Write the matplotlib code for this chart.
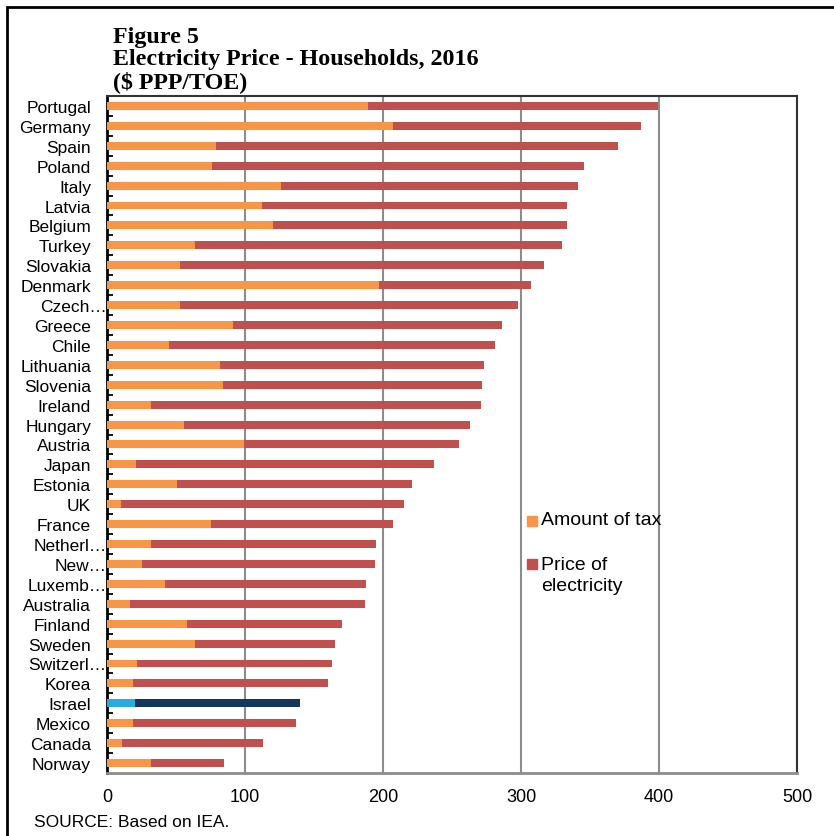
import numpy as np
import matplotlib
matplotlib.use("Agg")
import matplotlib.pyplot as plt
from matplotlib.patches import Rectangle

countries = ["Portugal", "Germany", "Spain", "Poland", "Italy", "Latvia", "Belgium",
             "Turkey", "Slovakia", "Denmark", "Czech\u2026", "Greece", "Chile",
             "Lithuania", "Slovenia", "Ireland", "Hungary", "Austria", "Japan",
             "Estonia", "UK", "France", "Netherl\u2026", "New\u2026", "Luxemb\u2026",
             "Australia", "Finland", "Sweden", "Switzerl\u2026", "Korea", "Israel",
             "Mexico", "Canada", "Norway"]
# total price of electricity
price = [399, 387, 370, 346, 341, 333, 333, 330, 317, 307, 298, 286, 281,
         273, 272, 271, 263, 255, 237, 221, 215, 207, 195, 194, 188,
         187, 170, 165, 163, 160, 140, 137, 113, 85]
# amount of tax
tax = [189, 207, 79, 76, 126, 112, 120, 64, 53, 197, 53, 91, 45,
       82, 84, 32, 56, 99, 21, 51, 10, 75, 32, 25, 42,
       17, 58, 64, 22, 19, 20, 19, 11, 32]

c_tax = "#F79646"
c_price = "#C0504D"
c_tax_il = "#29ABE2"
c_price_il = "#14365E"

plt.rcParams["font.family"] = ["Liberation Sans", "DejaVu Sans"]

fig = plt.figure(figsize=(8.34, 8.37), dpi=100)
ax = fig.add_axes([107/834, 1-774/837, 690/834, 677/837])

y = np.arange(len(countries))
pc = [c_price_il if c == "Israel" else c_price for c in countries]
tc = [c_tax_il if c == "Israel" else c_tax for c in countries]
ax.barh(y, price, height=0.4, color=pc, zorder=3)
ax.barh(y, tax, height=0.4, color=tc, zorder=4)

ax.set_xlim(0, 500)
ax.set_ylim(len(countries) - 0.5, -0.5)
ax.set_xticks([0, 100, 200, 300, 400, 500])
ax.tick_params(axis="x", length=0, pad=11, labelsize=13)
ax.grid(axis="x", color="#8c8c8c", lw=1.5, zorder=1)

ax.set_yticks(y)
ax.set_yticklabels(countries, fontsize=12.5)
ax.set_yticks(np.arange(len(countries) - 1) + 0.5, minor=True)
ax.tick_params(axis="y", which="major", length=0, pad=11.5)
ax.tick_params(axis="y", which="minor", direction="in", length=4.5, width=1.3, color="black")
for t, c in zip(ax.yaxis.get_major_ticks(), countries):
    if c.endswith("\u2026"):
        t.set_pad(0.3)

ax.spines["left"].set_color("black")
ax.spines["left"].set_linewidth(2)
ax.spines["bottom"].set_color("#8c8c8c")
ax.spines["bottom"].set_linewidth(2)
ax.spines["top"].set_color("#333333")
ax.spines["top"].set_linewidth(1.5)
ax.spines["right"].set_color("#333333")
ax.spines["right"].set_linewidth(1.5)

# legend drawn by hand so the square sits next to the first line
tf = ax.transAxes
def ax_xy(px, py):
    return ((px - 107) / 690, (774 - py) / 677)
x0, y0 = ax_xy(527, 527)
ax.add_patch(Rectangle((x0, y0), 10/690, 10/677, transform=tf, color=c_tax, clip_on=False, zorder=5))
x0, y0 = ax_xy(527, 570)
ax.add_patch(Rectangle((x0, y0), 10/690, 10/677, transform=tf, color=c_price, clip_on=False, zorder=5))
tx, ty = ax_xy(541, 521)
ax.text(tx, ty, "Amount of tax", transform=tf, fontsize=14, va="center", ha="left", zorder=5)
tx, ty = ax_xy(541, 557)
ax.text(tx, ty, "Price of\nelectricity", transform=tf, fontsize=14, va="top", ha="left",
        linespacing=1.3, zorder=5)

# titles
serif = ["Liberation Serif", "DejaVu Serif"]
fig.text(113/834, 1-43/837, "Figure 5", family=serif, weight="bold", fontsize=17.3, va="baseline")
fig.text(113/834, 1-65/837, "Electricity Price - Households, 2016", family=serif, weight="bold",
         fontsize=17.3, va="baseline")
fig.text(113/834, 1-88/837, "($ PPP/TOE)", family=serif, weight="bold", fontsize=17.3, va="baseline")

fig.text(34/834, 1-823/837, "SOURCE: Based on IEA.", fontsize=12.5, va="center")

# outer frame
fig.patches.append(Rectangle((7/834, -0.1), 1.2, 1 - 8/837 + 0.1, transform=fig.transFigure,
                             fill=False, edgecolor="black", lw=2))

fig.savefig("out.png", dpi=100)
